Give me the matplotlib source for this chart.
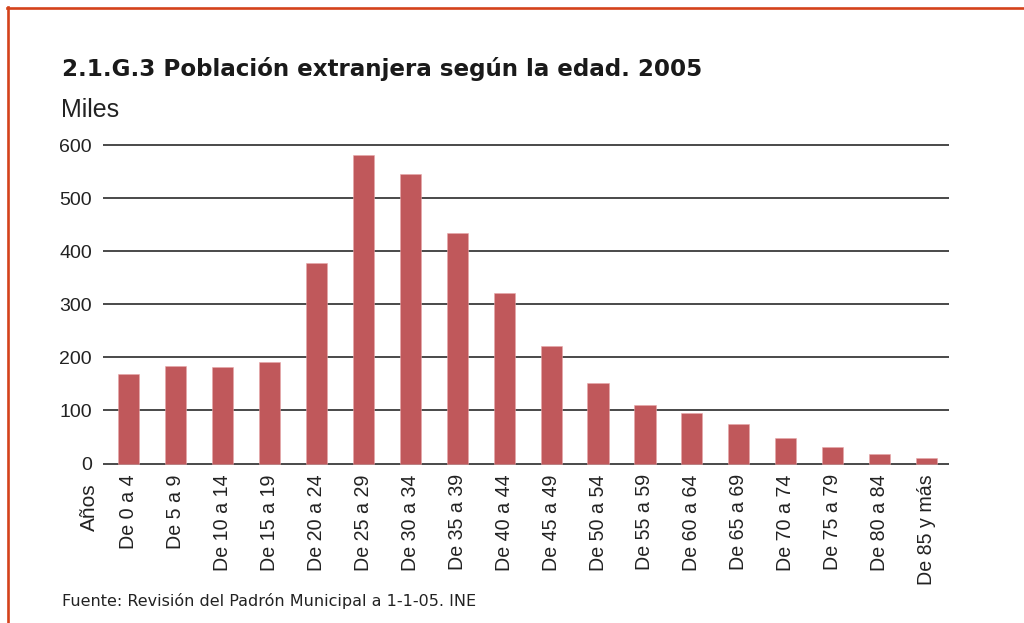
import matplotlib
matplotlib.use("Agg")
import matplotlib.pyplot as plt
from matplotlib.lines import Line2D

categories = ["De 0 a 4", "De 5 a 9", "De 10 a 14", "De 15 a 19", "De 20 a 24",
              "De 25 a 29", "De 30 a 34", "De 35 a 39", "De 40 a 44", "De 45 a 49",
              "De 50 a 54", "De 55 a 59", "De 60 a 64", "De 65 a 69", "De 70 a 74",
              "De 75 a 79", "De 80 a 84", "De 85 y más"]
values = [168, 184, 181, 191, 378, 581, 545, 434, 321, 222, 152, 110, 95, 75, 48, 31, 18, 10]
yticks = [0, 100, 200, 300, 400, 500, 600]

W, H = 1024, 623
plt.rcParams['font.family'] = ['Liberation Sans', 'DejaVu Sans']
fig = plt.figure(figsize=(W / 100, H / 100), dpi=100)

# axes placement in pixels
left_px, right_px = 103, 949
y0_px, per100 = 463.5, 53.05
ylo, yhi = -2, 604
bottom_px = y0_px + (0 - ylo) * per100 / 100
top_px = y0_px - yhi * per100 / 100
ax = fig.add_axes([left_px / W, 1 - bottom_px / H, (right_px - left_px) / W, (bottom_px - top_px) / H])

x = list(range(len(categories)))
ax.bar(x, values, width=0.45, color='#C0585B', edgecolor='#E7A7A9', linewidth=0.4, zorder=3)
ax.set_xlim(-0.55, 17.48)
ax.set_ylim(ylo, yhi)
ax.set_yticks(yticks)
ax.set_yticklabels([str(v) for v in yticks], fontsize=14, color='#222222')
ax.set_xticks(x)
ax.set_xticklabels(categories, rotation=90, ha='center', va='top', fontsize=14.1, color='#222222')
ax.tick_params(axis='both', length=0)
ax.tick_params(axis='x', pad=7)
ax.tick_params(axis='y', pad=8)
for s in ax.spines.values():
    s.set_visible(False)
ax.set_axisbelow(True)
ax.yaxis.grid(True, color='#2a2a2a', linewidth=1.2)
ax.xaxis.grid(False)

fig.text(62 / W, 1 - 69 / H, "2.1.G.3 Población extranjera según la edad. 2005",
         fontsize=16.6, fontweight='bold', ha='left', va='center', color='#1a1a1a',
         family=['DejaVu Sans'])
fig.text(61 / W, 1 - 110 / H, "Miles", fontsize=18, ha='left', va='center', color='#222222')
fig.text(89.5 / W, 1 - 483 / H, "Años", rotation=90, fontsize=15, ha='center', va='top', color='#222222')
fig.text(62 / W, 1 - 601 / H, "Fuente: Revisión del Padrón Municipal a 1-1-05. INE",
         fontsize=11.55, ha='left', va='center', color='#222222', family=['DejaVu Sans'])

border = '#D4421A'
fig.add_artist(Line2D([7 / W, 1.0], [1 - 7.5 / H, 1 - 7.5 / H], color=border, linewidth=1.9,
                      transform=fig.transFigure))
fig.add_artist(Line2D([7.5 / W, 7.5 / W], [1 - 6.5 / H, 0.0], color=border, linewidth=1.9,
                      transform=fig.transFigure))

fig.savefig("out.png", dpi=100)
